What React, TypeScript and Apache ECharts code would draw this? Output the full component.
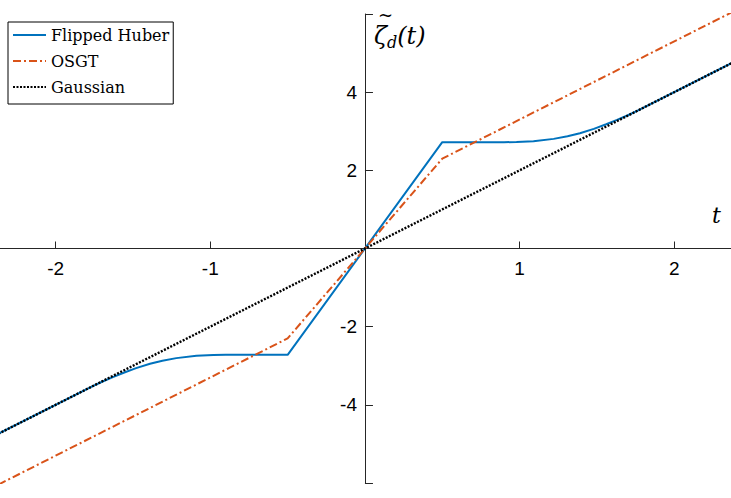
import React, { useEffect, useRef } from "react";
import * as echarts from "echarts";

const xTickValues = [-2, -1, 1, 2];
const yTickValues = [-6, -4, -2, 2, 4, 6];
const yLabelValues = [-4, -2, 2, 4];

const seriesNames = ["Flipped Huber", "OSGT", "Gaussian"];

const huberT = [-2.37, -1.76, -1.7, -1.63, -1.56, -1.48, -1.39, -1.31, -1.22, -1.09, -0.98, -0.9, -0.5, 0.5, 0.9, 0.98, 1.09, 1.22, 1.31, 1.39, 1.48, 1.56, 1.63, 1.7, 1.76, 2.37];
const huberV = [-4.74, -3.52, -3.41, -3.29, -3.18, -3.06, -2.95, -2.87, -2.805, -2.745, -2.725, -2.72, -2.72, 2.72, 2.72, 2.725, 2.745, 2.805, 2.87, 2.95, 3.06, 3.18, 3.29, 3.41, 3.52, 4.74];

const osgtT = [-2.37, -0.5, 0.5, 2.37];
const osgtV = [-6.04, -2.3, 2.3, 6.04];

const gaussT = [-2.37, 2.37];
const gaussV = [-4.74, 4.74];

const X_MIN = -2.36;
const X_MAX = 2.367;
const Y_MIN = -6;
const Y_MAX = 6;

const zip = (a: number[], b: number[]) => a.map((v, i) => [v, b[i]]);

export default function App() {
  const ref = useRef<HTMLDivElement>(null);
  useEffect(() => {
    if (!ref.current) return;
    const W = 731;
    const H = 498;
    const gridTop = 14;
    const gridBottom = 15;
    const gridH = H - gridTop - gridBottom;
    const xOffset = -((0 - X_MIN) / (X_MAX - X_MIN)) * W;
    const yOffset = -((0 - Y_MIN) / (Y_MAX - Y_MIN)) * gridH;
    const chart = echarts.init(ref.current, null, { renderer: "svg" });
    const axisColor = "#262626";
    chart.setOption({
      animation: false,
      backgroundColor: "#fff",
      grid: { left: 0, right: 0, top: gridTop, bottom: gridBottom, containLabel: false, outerBoundsMode: "none" },
      legend: {
        orient: "vertical",
        left: 8,
        top: 22,
        itemWidth: 33,
        itemHeight: 14,
        itemGap: 10,
        padding: [5, 4, 9, 4],
        backgroundColor: "#fff",
        borderColor: "#000",
        borderWidth: 1,
        borderRadius: 0,
        itemStyle: { opacity: 0 },
        textStyle: { fontFamily: "DejaVu Serif", fontSize: 16, color: "#000" },
        data: seriesNames,
      },
      xAxis: {
        type: "value",
        position: "bottom",
        offset: yOffset,
        min: X_MIN,
        max: X_MAX,
        splitLine: { show: false },
        axisLine: { show: true, onZero: false, lineStyle: { color: axisColor, width: 1 } },
        axisTick: { show: true, inside: true, length: 7, customValues: xTickValues, lineStyle: { color: axisColor } },
        axisLabel: {
          customValues: xTickValues,
          margin: 10,
          hideOverlap: false,
          fontFamily: "Liberation Sans",
          fontSize: 19,
          color: "#000",
        },
      },
      yAxis: {
        type: "value",
        position: "left",
        offset: xOffset,
        min: Y_MIN,
        max: Y_MAX,
        splitLine: { show: false },
        axisLine: { show: true, onZero: false, lineStyle: { color: axisColor, width: 1 } },
        axisTick: { show: true, inside: true, length: 8, customValues: yTickValues, lineStyle: { color: axisColor } },
        axisLabel: {
          customValues: yLabelValues,
          margin: 8,
          hideOverlap: false,
          fontFamily: "Liberation Sans",
          fontSize: 19,
          color: "#000",
        },
      },
      series: [
        {
          name: seriesNames[0],
          type: "line",
          symbol: "none",
          data: zip(huberT, huberV),
          lineStyle: { color: "#0072BD", width: 2 },
          itemStyle: { color: "#0072BD", opacity: 0 },
        },
        {
          name: seriesNames[1],
          type: "line",
          symbol: "none",
          data: zip(osgtT, osgtV),
          lineStyle: { color: "#D95319", width: 2, type: [8, 3, 2, 3] },
          itemStyle: { color: "#D95319", opacity: 0 },
        },
        {
          name: seriesNames[2],
          type: "line",
          symbol: "none",
          data: zip(gaussT, gaussV),
          lineStyle: { color: "#000", width: 2.4, type: [2, 1.5] },
          itemStyle: { color: "#000", opacity: 0 },
        },
      ],
      graphic: [
        {
          type: "text",
          left: 712,
          top: 204,
          style: { text: "t", fontFamily: "DejaVu Serif", fontStyle: "italic", fontSize: 22, fill: "#000" },
        },
        {
          type: "text",
          left: 374,
          top: 24,
          style: {
            text: "{z|ζ}{s|d}{z|(t)}",
            fill: "#000",
            rich: {
              z: { fontFamily: "DejaVu Serif", fontStyle: "italic", fontSize: 24, fill: "#000" },
              s: { fontFamily: "DejaVu Serif", fontStyle: "italic", fontSize: 16, fill: "#000", padding: [12, 0, 0, 0] },
            },
          },
        },
        {
          type: "text",
          left: 378,
          top: 5,
          style: { text: "~", fontFamily: "DejaVu Serif", fontSize: 18, fill: "#000" },
        },
      ],
    });
    return () => chart.dispose();
  }, []);
  return <div ref={ref} style={{ position: "absolute", left: 0, top: 0, width: 731, height: 498 }} />;
}
